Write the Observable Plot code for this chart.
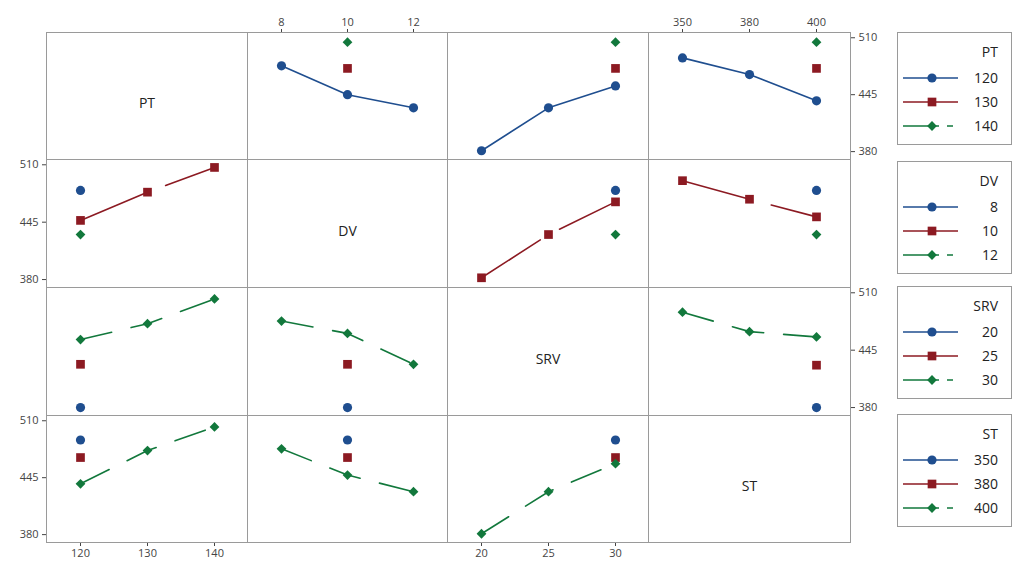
<!DOCTYPE html>
<html><head><meta charset="utf-8">
<script src="https://cdn.jsdelivr.net/npm/d3@7"></script>
<script src="https://cdn.jsdelivr.net/npm/@observablehq/plot@0.6"></script>
<style>
body{margin:0;background:#fff;font-family:"Open Sans","Noto Sans",sans-serif;}
#chart{position:relative;width:1013px;height:569px;overflow:hidden;background:#fff;}
#chart > svg, #chart > .panel{position:absolute;}
</style></head><body><div id="chart"></div>
<script>
// Factors and levels
const factors = ["PT", "DV", "SRV", "ST"];
const levelsPT = [120, 130, 140];
const levelsDV = [8, 10, 12];
const levelsSRV = [20, 25, 30];
const levelsST = [350, 380, 400];
const yTicks = [380, 445, 510];
const yDomain = [371, 516];

// Series styling (by level index 1, 2, 3)
const seriesColors = ["#1f4e8f", "#8c1a22", "#12783c"];
const seriesSymbols = ["circle", "square", "diamond2"];
const seriesDash = [null, "70,22", "32,20"];

// Means: [series level (row factor), x level (column factor), mean]
const PT_by_DV  = [[120, 8, 478], [120, 10, 445], [120, 12, 430], [130, 10, 475], [140, 10, 505]];
const PT_by_SRV = [[120, 20, 381], [120, 25, 430], [120, 30, 455], [130, 30, 475], [140, 30, 505]];
const PT_by_ST  = [[120, 350, 487], [120, 380, 468], [120, 400, 438], [130, 400, 475], [140, 400, 505]];
const DV_by_PT  = [[8, 120, 481], [10, 120, 447], [10, 130, 479], [10, 140, 507], [12, 120, 431]];
const DV_by_SRV = [[8, 30, 481], [10, 20, 382], [10, 25, 431], [10, 30, 468], [12, 30, 431]];
const DV_by_ST  = [[8, 400, 481], [10, 350, 492], [10, 380, 471], [10, 400, 451], [12, 400, 431]];
const SRV_by_PT = [[20, 120, 380], [25, 120, 429], [30, 120, 457], [30, 130, 475], [30, 140, 503]];
const SRV_by_DV = [[20, 10, 380], [25, 10, 429], [30, 8, 478], [30, 10, 464], [30, 12, 429]];
const SRV_by_ST = [[20, 400, 380], [25, 400, 428], [30, 350, 488], [30, 380, 466], [30, 400, 460]];
const ST_by_PT  = [[350, 120, 488], [380, 120, 468], [400, 120, 438], [400, 130, 476], [400, 140, 503]];
const ST_by_DV  = [[350, 10, 488], [380, 10, 468], [400, 8, 478], [400, 10, 448], [400, 12, 429]];
const ST_by_SRV = [[350, 30, 488], [380, 30, 468], [400, 20, 381], [400, 25, 429], [400, 30, 461]];

const levels = [levelsPT, levelsDV, levelsSRV, levelsST];
const table = [
  [null, PT_by_DV, PT_by_SRV, PT_by_ST],
  [DV_by_PT, null, DV_by_SRV, DV_by_ST],
  [SRV_by_PT, SRV_by_DV, null, SRV_by_ST],
  [ST_by_PT, ST_by_DV, ST_by_SRV, null]
];

const colX = [46, 247, 447, 648, 850];
const rowY = [32, 159, 287, 415, 542];
const M = 40, MT = 30;
const chart = document.getElementById("chart");
const FONT = '"Open Sans","Noto Sans",sans-serif';

for (let r = 0; r < 4; r++) {
  for (let c = 0; c < 4; c++) {
    const x0 = colX[c], y0 = rowY[r];
    const w = colX[c + 1] - x0, h = rowY[r + 1] - y0;
    const marks = [];
    if (r === c) {
      marks.push(Plot.text([factors[r]], {frameAnchor: "middle", dy: 8, fontSize: 14, fill: "#222", text: d => d}));
    } else {
      const rows = table[r][c].map(([s, x, y]) => ({s, x, y}));
      levels[r].forEach((lv, i) => {
        const d = rows.filter(p => p.s === lv);
        if (d.length > 1) marks.push(Plot.line(d, {x: "x", y: "y", stroke: seriesColors[i], strokeWidth: 1.6, strokeDasharray: seriesDash[i]}));
      });
      levels[r].forEach((lv, i) => {
        marks.push(Plot.dot(rows.filter(p => p.s === lv), {x: "x", y: "y", fill: seriesColors[i], stroke: "none", symbol: seriesSymbols[i], r: i === 2 ? 4.4 : (i === 1 ? 4.9 : 4.6)}));
      });
    }
    marks.push(Plot.frame({stroke: "#9a9a9a", strokeWidth: 1}));
    const xAxis = (r === 0 && c % 2 === 1) ? "top" : (r === 3 && c % 2 === 0) ? "bottom" : null;
    const yAxis = (c === 0 && r % 2 === 1) ? "left" : (c === 3 && r % 2 === 0) ? "right" : null;
    const svg = Plot.plot({
      width: w + 2 * M,
      height: h + 2 * MT,
      marginLeft: M, marginRight: M, marginTop: MT, marginBottom: MT,
      style: {background: "transparent", fontSize: "11px", fontFamily: FONT, color: "#444", overflow: "visible"},
      x: {type: "point", domain: levels[c], padding: 0.5, axis: xAxis, tickSize: 4, tickPadding: 3, label: null},
      y: {domain: yDomain, ticks: yTicks, axis: yAxis, tickSize: 4, tickPadding: 4, label: null},
      marks
    });
    svg.style.position = "absolute";
    svg.style.left = (x0 - M) + "px";
    svg.style.top = (y0 - MT) + "px";
    chart.appendChild(svg);
  }
}

// Legends
const legendTops = [32, 161, 286, 414];
const lg = d3.select(chart).append("svg")
  .attr("width", 1013).attr("height", 569)
  .style("left", "0px").style("top", "0px")
  .style("font-family", FONT);
factors.forEach((f, k) => {
  const t = legendTops[k];
  const g = lg.append("g").attr("transform", `translate(0,${t})`);
  g.append("rect").attr("x", 897.5).attr("y", 0.5).attr("width", 114).attr("height", 112)
    .attr("fill", "none").attr("stroke", "#9a9a9a");
  g.append("text").attr("x", 998).attr("y", 25).attr("text-anchor", "end")
    .attr("font-size", 14).attr("fill", "#222").text(f);
  levels[k].forEach((lv, i) => {
    const yy = 46 + i * 24;
    g.append("line").attr("x1", 903).attr("x2", 958).attr("y1", yy).attr("y2", yy)
      .attr("stroke", seriesColors[i]).attr("stroke-width", 1.6)
      .attr("stroke-dasharray", i === 2 ? "36,8,6,20" : seriesDash[i]);
    const sym = i === 0 ? d3.symbolCircle : i === 1 ? d3.symbolSquare : d3.symbolDiamond2;
    const rr = i === 2 ? 4.4 : (i === 1 ? 4.9 : 4.6);
    g.append("path").attr("transform", `translate(932,${yy})`)
      .attr("d", d3.symbol(sym, Math.PI * rr * rr)()).attr("fill", seriesColors[i]);
    g.append("text").attr("x", 998).attr("y", yy + 5).attr("text-anchor", "end")
      .attr("font-size", 14).attr("fill", "#222").text(lv);
  });
});
</script></body></html>
